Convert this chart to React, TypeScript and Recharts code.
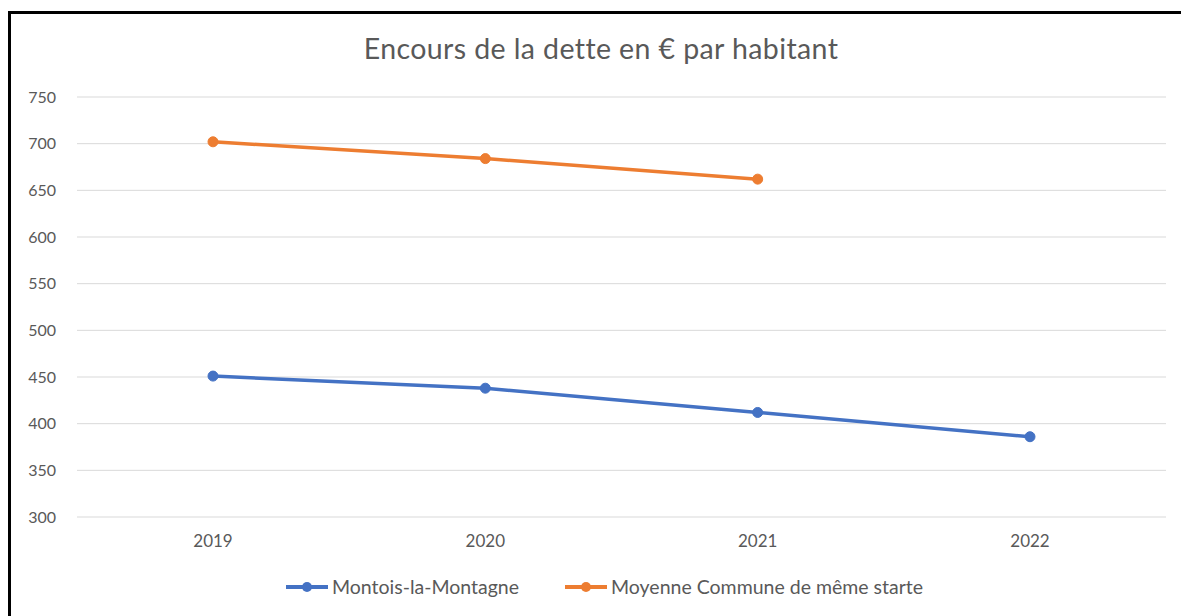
import React from "react";
import {
  LineChart,
  Line,
  XAxis,
  YAxis,
  CartesianGrid,
} from "recharts";

const years = ["2019", "2020", "2021", "2022"];
const montois = [451, 438, 412, 386];
const moyenne: (number | null)[] = [702, 684, 662, null];
const yTicks = [300, 350, 400, 450, 500, 550, 600, 650, 700, 750];

const series = [
  { key: "montois", name: "Montois-la-Montagne", color: "#4472C4" },
  { key: "moyenne", name: "Moyenne Commune de même starte", color: "#ED7D31" },
];

const data = years.map((year, i) => ({
  year,
  montois: montois[i],
  moyenne: moyenne[i],
}));

const font = "Lato, 'Open Sans', sans-serif";

export default function App() {
  return (
    <div
      style={{
        position: "fixed",
        top: 0,
        left: 0,
        width: 1181,
        height: 616,
        overflow: "hidden",
        background: "#fff",
        fontFamily: font,
      }}
    >
      <div
        style={{
          position: "absolute",
          left: 8,
          top: 11,
          width: 1200,
          height: 640,
          border: "3px solid #000",
          boxSizing: "border-box",
        }}
      />
      <div
        style={{
          position: "absolute",
          top: 31,
          left: 0,
          width: 1202,
          textAlign: "center",
          fontSize: 28.5,
          letterSpacing: 0.4,
          color: "#595959",
        }}
      >
        Encours de la dette en € par habitant
      </div>

      <div style={{ position: "absolute", left: 0, top: 0 }}>
        <LineChart
          width={1181}
          height={616}
          data={data}
          margin={{ top: 97, right: 15, bottom: 69, left: 17 }}
        >
          <CartesianGrid vertical={false} stroke="#d9d9d9" />
          <XAxis
            dataKey="year"
            axisLine={false}
            tickLine={false}
            padding={{ left: 136, right: 136 }}
            tickMargin={12}
            height={30}
            tick={{ fill: "#595959", fontSize: 17, fontFamily: font }}
          />
          <YAxis
            domain={[300, 750]}
            ticks={yTicks}
            axisLine={false}
            tickLine={false}
            width={60}
            tickMargin={15}
            tick={{ fill: "#595959", fontSize: 16, fontFamily: font }}
          />
          {series.map((s) => (
            <Line
              key={s.key}
              dataKey={s.key}
              name={s.name}
              stroke={s.color}
              strokeWidth={3.5}
              dot={{ r: 5, fill: s.color, stroke: s.color, strokeWidth: 1 }}
              isAnimationActive={false}
            />
          ))}
        </LineChart>
      </div>

      <div
        style={{
          position: "absolute",
          top: 575,
          left: 0,
          width: 1208,
          display: "flex",
          justifyContent: "center",
          gap: 45,
          fontSize: 19.5,
          color: "#595959",
        }}
      >
        {series.map((s) => (
          <div key={s.key} style={{ display: "flex", alignItems: "center" }}>
            <svg width={44} height={20} style={{ marginRight: 3 }}>
              <line x1={1} y1={10} x2={43} y2={10} stroke={s.color} strokeWidth={4} />
              <circle cx={22} cy={10} r={5} fill={s.color} />
            </svg>
            <span>{s.name}</span>
          </div>
        ))}
      </div>
    </div>
  );
}
